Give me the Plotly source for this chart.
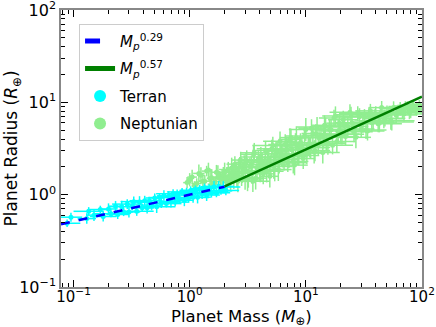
import plotly.graph_objects as go

# Terran planets
terran_mass = [0.088, 0.095, 0.13, 0.135, 0.15, 0.17, 0.18, 0.2, 0.21, 0.23,
               0.24, 0.26, 0.27, 0.29, 0.3, 0.32, 0.33, 0.35, 0.37, 0.39,
               0.41, 0.43, 0.45, 0.47, 0.5, 0.52, 0.55, 0.57, 0.6, 0.63,
               0.66, 0.69, 0.72, 0.75, 0.78, 0.82, 0.86, 0.9, 0.94, 0.98,
               1.02, 1.07, 1.12, 1.17, 1.22, 1.28, 1.34, 1.4, 1.47, 1.54,
               1.62, 1.7, 1.78, 1.86, 1.95, 2.05]
terran_radius = [0.49, 0.57, 0.55, 0.66, 0.60, 0.69, 0.58, 0.70, 0.62, 0.75,
                 0.61, 0.74, 0.65, 0.79, 0.65, 0.75, 0.84, 0.66, 0.83, 0.72,
                 0.86, 0.72, 0.86, 0.77, 0.92, 0.74, 0.93, 0.81, 0.97, 0.80,
                 0.96, 0.84, 1.02, 0.83, 0.99, 0.90, 1.07, 0.87, 1.06, 0.93,
                 1.11, 0.94, 1.11, 0.94, 1.16, 1.02, 1.18, 0.99, 1.17, 1.05,
                 1.22, 1.05, 1.23, 1.10, 1.21, 1.11]
terran_mass_relerr = [0.30, 0.25, 0.20, 0.35, 0.15, 0.25, 0.30, 0.20, 0.40, 0.15,
                      0.25, 0.30, 0.20, 0.35, 0.25, 0.15, 0.30, 0.40, 0.20, 0.25,
                      0.35, 0.15, 0.30, 0.25, 0.20, 0.45, 0.25, 0.30, 0.15, 0.35,
                      0.25, 0.20, 0.40, 0.30, 0.15, 0.25, 0.35, 0.20, 0.30, 0.50,
                      0.25, 0.15, 0.35, 0.30, 0.20, 0.40, 0.25, 0.30, 0.15, 0.45,
                      0.30, 0.20, 0.35, 0.25, 0.40, 0.30]
terran_radius_relerr = [0.10, 0.12, 0.14, 0.11, 0.16, 0.10, 0.13, 0.15, 0.09, 0.14,
                        0.12, 0.16, 0.11, 0.13, 0.15, 0.10, 0.14, 0.12, 0.16, 0.11,
                        0.13, 0.15, 0.10, 0.14, 0.12, 0.17, 0.11, 0.13, 0.15, 0.10,
                        0.14, 0.16, 0.12, 0.11, 0.15, 0.13, 0.10, 0.16, 0.12, 0.14,
                        0.11, 0.15, 0.13, 0.17, 0.10, 0.14, 0.12, 0.16, 0.11, 0.13,
                        0.15, 0.12, 0.14, 0.10, 0.16, 0.13]

# Neptunian planets
nep_mass = [0.95, 1.05, 1.1, 1.2, 1.3, 1.4, 1.5, 1.6, 1.7, 1.8,
            1.9, 2.0, 2.1, 2.2, 2.3, 2.4, 2.5, 2.6, 2.7, 2.8,
            2.9, 3.0, 3.1, 3.2, 3.4, 3.5, 3.6, 3.8, 4.0, 4.1,
            4.3, 4.5, 4.7, 4.9, 5.1, 5.3, 5.5, 5.8, 6.0, 6.2,
            6.5, 6.8, 7.0, 7.3, 7.6, 8.0, 8.3, 8.7, 9.0, 9.5,
            10, 10.5, 11, 11.5, 12, 12.5, 13, 14, 14.5, 15,
            16, 17, 18, 19, 20, 21, 22, 24, 25, 27,
            28, 30, 32, 34, 36, 38, 40, 43, 45, 48,
            50, 54, 57, 60, 65, 70, 75, 80, 85, 90,
            1.0, 1.15, 1.25, 1.35, 1.45, 1.55, 1.65, 1.75, 1.85, 1.95,
            2.05, 2.15, 2.25, 2.35, 2.45, 2.55, 2.65, 2.75, 2.85, 2.95,
            3.05, 3.15, 3.3, 3.45, 3.55, 3.7, 3.9, 4.05, 4.2, 4.4,
            4.6, 4.8, 5.0, 5.2, 5.4, 5.65, 5.9, 6.1, 6.35, 6.65,
            6.9, 7.15, 7.45, 7.8, 8.15, 8.5, 8.85, 9.25, 9.75, 10.2,
            10.8, 11.2, 11.8, 12.2, 12.8, 13.5, 14.2, 14.8, 15.5, 16.5,
            17.5, 18.5, 19.5, 20.5, 21.5, 23, 24.5, 26, 29, 31,
            33, 35, 37, 39, 42, 44, 47, 52, 55, 62,
            68, 72, 78, 83, 88, 95]
nep_radius = [1.35, 1.55, 1.25, 1.70, 1.40, 1.80, 1.50, 1.30, 1.75, 1.55,
              1.50, 1.75, 1.35, 1.60, 1.95, 1.45, 1.70, 1.40, 2.00, 1.55,
              1.80, 1.50, 2.34, 1.51, 2.11, 1.40, 2.84, 1.96, 1.82, 2.56,
              1.68, 3.01, 2.32, 1.58, 3.14, 2.02, 2.78, 1.87, 3.80, 2.59,
              2.39, 3.40, 2.22, 3.97, 3.05, 2.09, 4.11, 2.65, 3.67, 2.46,
              5.08, 3.49, 3.22, 4.60, 3.01, 5.39, 4.14, 2.87, 5.64, 3.63,
              5.09, 3.44, 7.12, 4.90, 4.53, 6.48, 4.26, 7.82, 6.01, 4.18,
              7.56, 5.15, 6.93, 4.90, 8.09, 6.27, 7.49, 5.96, 8.77, 6.74,
              7.72, 6.30, 8.77, 7.28, 8.50, 7.48, 8.75, 8.08, 9.15, 8.42,
              1.45, 1.32, 1.62, 1.40, 1.85, 1.52, 1.38, 1.72, 1.48, 1.62,
              1.50, 1.87, 1.39, 1.76, 2.14, 1.56, 1.96, 2.37, 1.73, 2.14,
              2.24, 1.44, 2.02, 1.71, 2.73, 1.51, 2.39, 1.79, 2.24, 2.13,
              1.79, 2.51, 2.10, 3.40, 1.87, 2.96, 2.22, 2.77, 2.62, 3.49,
              3.07, 2.57, 4.15, 2.29, 3.62, 2.72, 3.41, 3.23, 4.33, 2.82,
              3.26, 5.25, 2.90, 4.57, 3.44, 4.35, 4.15, 5.52, 3.58, 5.05,
              6.77, 3.76, 5.95, 4.50, 5.68, 5.46, 7.35, 4.80, 6.97, 5.95,
              5.01, 7.29, 6.02, 7.06, 5.88, 7.56, 6.38, 7.50, 6.11, 7.83,
              7.82, 9.03, 7.76, 9.27, 8.48, 9.44]
nep_mass_relerr = [0.08, 0.10, 0.06, 0.12, 0.08, 0.10, 0.07, 0.12, 0.09, 0.10,
                   0.12, 0.15, 0.10, 0.18, 0.12, 0.20, 0.15, 0.22, 0.18, 0.25,
                   0.30, 0.45, 0.20, 0.35, 0.25, 0.40, 0.30, 0.20, 0.35, 0.50,
                   0.25, 0.30, 0.40, 0.20, 0.35, 0.45, 0.25, 0.30, 0.40, 0.20,
                   0.35, 0.30, 0.45, 0.25, 0.40, 0.30, 0.20, 0.50, 0.35, 0.25,
                   0.40, 0.30, 0.45, 0.25, 0.35, 0.50, 0.30, 0.40, 0.25, 0.45,
                   0.35, 0.50, 0.30, 0.40, 0.45, 0.35, 0.30, 0.50, 0.40, 0.35,
                   0.45, 0.30, 0.50, 0.40, 0.35, 0.45, 0.55, 0.40, 0.30, 0.50,
                   0.45, 0.60, 0.35, 0.50, 0.40, 0.55, 0.45, 0.35, 0.50, 0.40,
                   0.06, 0.10, 0.08, 0.12, 0.07, 0.09, 0.11, 0.08, 0.12, 0.10,
                   0.15, 0.20, 0.12, 0.22, 0.18, 0.25, 0.15, 0.20, 0.28, 0.22,
                   0.25, 0.35, 0.20, 0.40, 0.30, 0.25, 0.45, 0.20, 0.35, 0.30,
                   0.40, 0.25, 0.35, 0.50, 0.30, 0.20, 0.45, 0.35, 0.25, 0.40,
                   0.30, 0.45, 0.25, 0.35, 0.50, 0.30, 0.40, 0.20, 0.45, 0.35,
                   0.50, 0.30, 0.40, 0.25, 0.45, 0.35, 0.55, 0.30, 0.40, 0.50,
                   0.35, 0.45, 0.30, 0.55, 0.40, 0.50, 0.35, 0.45, 0.60, 0.40,
                   0.50, 0.40, 0.55, 0.35, 0.60, 0.45, 0.50, 0.40, 0.55, 0.45,
                   0.50, 0.40, 0.45, 0.35, 0.40, 0.30]
nep_radius_relerr = [0.15, 0.20, 0.12, 0.25, 0.18, 0.14, 0.22, 0.16, 0.20, 0.13,
                     0.24, 0.27, 0.21, 0.25, 0.29, 0.26, 0.24, 0.32, 0.28, 0.25,
                     0.26, 0.33, 0.29, 0.27, 0.25, 0.31, 0.28, 0.34, 0.26, 0.28,
                     0.30, 0.27, 0.35, 0.32, 0.25, 0.36, 0.29, 0.33, 0.27, 0.30,
                     0.31, 0.25, 0.26, 0.32, 0.28, 0.29, 0.34, 0.28, 0.26, 0.30,
                     0.33, 0.27, 0.31, 0.25, 0.31, 0.29, 0.26, 0.32, 0.28, 0.24,
                     0.30, 0.26, 0.27, 0.33, 0.29, 0.25, 0.26, 0.22, 0.28, 0.31,
                     0.20, 0.25, 0.22, 0.27, 0.19, 0.24, 0.21, 0.26, 0.18, 0.23,
                     0.20, 0.25, 0.17, 0.22, 0.19, 0.21, 0.17, 0.20, 0.16, 0.18,
                     0.18, 0.14, 0.22, 0.16, 0.20, 0.24, 0.15, 0.21, 0.17, 0.23,
                     0.25, 0.21, 0.28, 0.24, 0.22, 0.30, 0.26, 0.23, 0.29, 0.25,
                     0.28, 0.32, 0.25, 0.30, 0.27, 0.33, 0.26, 0.31, 0.29, 0.24,
                     0.32, 0.27, 0.30, 0.25, 0.34, 0.28, 0.31, 0.26, 0.33, 0.29,
                     0.27, 0.32, 0.25, 0.35, 0.28, 0.30, 0.26, 0.33, 0.24, 0.31,
                     0.29, 0.25, 0.33, 0.27, 0.30, 0.26, 0.31, 0.24, 0.32, 0.28,
                     0.23, 0.30, 0.25, 0.29, 0.26, 0.28, 0.22, 0.30, 0.24, 0.27,
                     0.25, 0.20, 0.23, 0.19, 0.24, 0.18, 0.22, 0.17, 0.23, 0.18,
                     0.16, 0.14, 0.18, 0.13, 0.15, 0.12]

# power-law fits (end points)
terran_fit_mass = [0.078, 2.0]
terran_fit_radius = [0.477, 1.22]
nep_fit_mass = [2.0, 100]
nep_fit_radius = [1.23, 11.5]

x_tickvals = [0.1, 1, 10, 100]
x_ticktext = ["10<sup>\u22121</sup>", "10<sup>0</sup>", "10<sup>1</sup>", "10<sup>2</sup>"]
y_tickvals = [0.1, 1, 10, 100]
y_ticktext = ["10<sup>\u22121</sup>", "10<sup>0</sup>", "10<sup>1</sup>", "10<sup>2</sup>"]
minor_vals = [d * m for d in [0.01, 0.1, 1, 10] for m in range(2, 10)]


def err_plus(vals, rel):
    return [v * r for v, r in zip(vals, rel)]


def err_minus(vals, rel):
    # log-symmetric lower bar
    return [v - v / (1 + r) for v, r in zip(vals, rel)]


def scatter(name, mass, radius, mrel, rrel, color, rank):
    return go.Scatter(
        x=mass, y=radius, mode="markers", name=name, legendrank=rank, legendgroup=name,
        marker=dict(color=color, size=5),
        error_x=dict(type="data", array=err_plus(mass, mrel), arrayminus=err_minus(mass, mrel),
                     color=color, thickness=1.5, width=0),
        error_y=dict(type="data", array=err_plus(radius, rrel), arrayminus=err_minus(radius, rrel),
                     color=color, thickness=1.5, width=0),
    )


fig = go.Figure()
fig.add_trace(scatter("Neptunian", nep_mass, nep_radius, nep_mass_relerr, nep_radius_relerr, "#90EE90", 4))
fig.add_trace(scatter("Terran", terran_mass, terran_radius, terran_mass_relerr, terran_radius_relerr, "#00FFFF", 3))
fig.add_trace(go.Scatter(
    x=terran_fit_mass, y=terran_fit_radius, mode="lines", legendrank=1, legendgroup="a",
    name="<i>M</i><sub><i>p</i></sub><sup>0.29</sup>",
    line=dict(color="#0000FF", width=2.5, dash="dash"),
))
fig.add_trace(go.Scatter(
    x=nep_fit_mass, y=nep_fit_radius, mode="lines", legendrank=2, legendgroup="b",
    name="<i>M</i><sub><i>p</i></sub><sup>0.57</sup>",
    line=dict(color="#008000", width=2.5),
))

axis_style = dict(
    type="log", showgrid=False, zeroline=False, automargin=False,
    showline=True, linecolor="#888888", linewidth=1.5, mirror="ticks",
    ticks="inside", ticklen=7, tickwidth=1, tickcolor="black",
    tickfont=dict(size=16), ticklabeloverflow="allow",
    minor=dict(ticks="inside", ticklen=4, tickwidth=1, tickcolor="black", tickvals=minor_vals),
)

fig.update_xaxes(axis_style, range=[-1.108, 2.0005], tickvals=x_tickvals, ticktext=x_ticktext,
                 tickfont=dict(size=15), ticklabelstandoff=-5)
fig.update_yaxes(axis_style, range=[-1.0005, 2.0005], tickvals=y_tickvals, ticktext=y_ticktext)

# axis titles placed as annotations for exact positioning
fig.add_annotation(text="Planet Mass (<i>M</i><sub>\u2295</sub>)", xref="paper", yref="paper",
                   x=0.5, y=-0.11, xanchor="center", yanchor="middle", showarrow=False,
                   font=dict(size=16.5))
fig.add_annotation(text="Planet Radius (<i>R</i><sub>\u2295</sub>)", xref="paper", yref="paper",
                   x=-0.133, y=0.5, xanchor="center", yanchor="middle", showarrow=False,
                   textangle=-90, font=dict(size=17))

fig.update_layout(
    width=436, height=327,
    margin=dict(l=61, r=14, t=10, b=40),
    plot_bgcolor="white", paper_bgcolor="white",
    font=dict(family="DejaVu Sans", size=15, color="black"),
    legend=dict(x=0.05, y=0.95, xanchor="left", yanchor="top",
                bordercolor="#cccccc", borderwidth=1, bgcolor="rgba(255,255,255,0.85)",
                font=dict(size=15), itemsizing="constant", tracegroupgap=5),
)

fig.write_html("out.html", config={"displayModeBar": False},
               post_script="document.body.style.margin='0';")
